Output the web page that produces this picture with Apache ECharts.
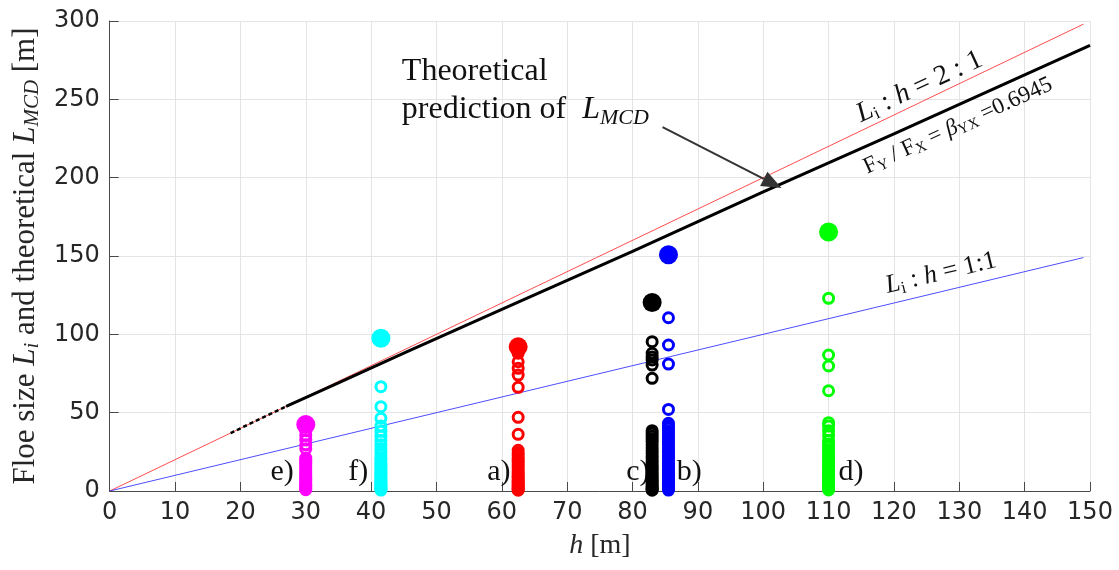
<!DOCTYPE html>
<html>
<head>
<meta charset="utf-8">
<script src="https://cdn.jsdelivr.net/npm/echarts@6/dist/echarts.min.js"></script>
<style>
html,body{margin:0;padding:0;background:#ffffff;}
#chart{width:1119px;height:570px;}
</style>
</head>
<body>
<div id="chart"></div>
<script>
// ---------------- DATA ----------------
const xTicks = [0, 10, 20, 30, 40, 50, 60, 70, 80, 90, 100, 110, 120, 130, 140, 150];
const yTicks = [0, 50, 100, 150, 200, 250, 300];

// Sites (ice thickness h, m)
const siteLabels = ['e)', 'f)', 'a)', 'c)', 'b)', 'd)'];
const siteH = [30, 41.5, 62.5, 83, 85.5, 110];
const siteColors = ['#ff00ff', '#00ffff', '#ff0000', '#000000', '#0000ff', '#00ff00'];

// Largest floe size per site (filled markers)
const maxFloe = [42.5, 97.5, 92, 120.3, 150.8, 165.3];

// Individual floe sizes L_i per site (open markers)
const floesE = [38.5, 35.5, 32.5, 29.5, 27, 21, 19.8, 18.5, 17.2, 16, 14.7, 13.5, 12.2, 11, 9.8, 8.6, 7.5, 6.3, 5.2, 4.1, 3.1, 2.2, 1.4, 0.8];
const floesF = [66.6, 53.8, 46.4, 41.5, 38.2, 35.1, 32.3, 29.6, 27.2, 25, 23.1, 21.3, 19.6, 18, 16.5, 15.1, 13.8, 12.5, 11.3, 10.1, 9, 7.9, 6.9, 5.9, 5, 4.1, 3.3, 2.5, 1.8, 1.1, 0.6];
const floesA = [88, 82.5, 78.3, 74, 66.2, 47, 36.2, 26, 24.3, 22.8, 21.2, 19.7, 18.3, 16.9, 15.5, 14.2, 12.9, 11.7, 10.5, 9.3, 8.2, 7.1, 6.1, 5.1, 4.2, 3.3, 2.5, 1.7, 1, 0.5];
const floesC = [95.3, 87.9, 85.5, 83.6, 80.4, 71.9, 38.5, 36.8, 35, 33.1, 31.2, 29.4, 27.6, 25.8, 24.1, 22.4, 20.8, 19.2, 17.6, 16.1, 14.6, 13.2, 11.8, 10.5, 9.2, 8, 6.8, 5.7, 4.6, 3.6, 2.7, 1.8, 1, 0.5];
const floesB = [110.6, 93.2, 81, 52.1, 43.2, 41.6, 40, 38.2, 36.5, 34.7, 32.9, 31.1, 29.3, 27.6, 25.9, 24.2, 22.6, 21, 19.4, 17.9, 16.4, 14.9, 13.5, 12.1, 10.8, 9.5, 8.3, 7.1, 6, 4.9, 3.9, 2.9, 2, 1.2, 0.6];
const floesD = [123, 86.8, 79.8, 64, 43.6, 41.5, 38.5, 35.5, 32.2, 30, 28.2, 26.4, 24.7, 23, 21.4, 19.8, 18.3, 16.8, 15.4, 14, 12.7, 11.4, 10.2, 9, 7.9, 6.8, 5.8, 4.8, 3.9, 3, 2.2, 1.4, 0.7];
const floesBySite = [floesE, floesF, floesA, floesC, floesB, floesD];

// Reference ratio lines L_i : h
const ratio21H = [0, 149];
const ratio21L = [0, 298];
const ratio11H = [0, 149];
const ratio11L = [0, 149];

// Theoretical L_MCD curve (solid part and sparse dashed start)
const theoryH = [27, 35, 45, 60, 80, 100, 120, 150];
const theoryL = [54, 69, 88, 116, 153, 191, 228, 284.5];
const theoryDashH = [18.5, 27];
const theoryDashL = [37, 54];

// ---------------- CHART ----------------
const chart = echarts.init(document.getElementById('chart'), null, {renderer: 'canvas'});
const serif = '"Liberation Serif", "Times New Roman", serif';
const sans = '"DejaVu Sans", "Liberation Sans", sans-serif';
const txt = '#262626';

const zip = (xs, ys) => xs.map((x, i) => [x, ys[i]]);

const series = [
  {type: 'line', data: zip(ratio21H, ratio21L), symbol: 'none', lineStyle: {color: '#ff2020', width: 1, opacity: 0.8}, silent: true, z: 2},
  {type: 'line', data: zip(ratio11H, ratio11L), symbol: 'none', lineStyle: {color: '#2020ff', width: 1, opacity: 0.8}, silent: true, z: 2},
  {type: 'line', data: zip(theoryDashH, theoryDashL), symbol: 'none', lineStyle: {color: '#000', width: 2.5, type: [4, 3]}, silent: true, z: 3},
  {type: 'line', data: zip(theoryH, theoryL), symbol: 'none', lineStyle: {color: '#000', width: 3}, silent: true, z: 3}
];
siteH.forEach((h, i) => {
  series.push({
    type: 'scatter', z: 4,
    data: floesBySite[i].map(v => [h, v]),
    symbol: 'circle', symbolSize: 10,
    itemStyle: {color: 'rgba(0,0,0,0)', borderColor: siteColors[i], borderWidth: 3, opacity: 1},
    silent: true
  });
  series.push({
    type: 'scatter', z: 5,
    data: [[h, maxFloe[i]]],
    symbol: 'circle', symbolSize: 19,
    itemStyle: {color: siteColors[i], opacity: 1},
    silent: true
  });
});

const axisCommon = {
  type: 'value',
  axisLine: {show: true, lineStyle: {color: '#4a4a4a', width: 1}},
  axisTick: {show: true, inside: true, length: 9, lineStyle: {color: '#4a4a4a'}},
  splitLine: {show: true, lineStyle: {color: '#e4e4e4', width: 1}},
  axisLabel: {fontFamily: sans, fontSize: 24, color: txt}
};

const option = {
  animation: false,
  backgroundColor: '#ffffff',
  grid: {left: 105, right: 29, top: 21, bottom: 79, containLabel: false},
  xAxis: Object.assign({}, axisCommon, {
    min: xTicks[0], max: xTicks[xTicks.length - 1], interval: 10,
    axisLabel: Object.assign({}, axisCommon.axisLabel, {margin: 10}),
    name: '{i|h}{r| [m]}',
    nameLocation: 'middle', nameGap: 41,
    nameTextStyle: {
      rich: {
        i: {fontFamily: serif, fontStyle: 'italic', fontSize: 28, color: txt},
        r: {fontFamily: serif, fontSize: 28, color: txt}
      }
    }
  }),
  yAxis: Object.assign({}, axisCommon, {
    min: yTicks[0], max: yTicks[yTicks.length - 1], interval: 50,
    axisLabel: Object.assign({}, axisCommon.axisLabel, {margin: 10}),
    name: '{r|Floe size }{i|L}{s|i}{r| and theoretical }{i|L}{s|MCD}{r| [m]}',
    nameLocation: 'middle', nameGap: 62, nameRotate: 90,
    nameTextStyle: {
      rich: {
        r: {fontFamily: serif, fontSize: 31, color: txt, lineHeight: 36},
        i: {fontFamily: serif, fontStyle: 'italic', fontSize: 31, color: txt, lineHeight: 36},
        s: {fontFamily: serif, fontStyle: 'italic', fontSize: 21, color: txt, lineHeight: 36, padding: [14, 0, 0, 0]}
      }
    }
  }),
  series: series
};
chart.setOption(option);

// ---------------- ANNOTATIONS ----------------
const P = (x, y) => chart.convertToPixel({gridIndex: 0}, [x, y]);
const deg = Math.PI / 180;
const ink = '#111111';
const g = [];

// "Theoretical prediction of L_MCD"
let p = P(44.7, 267.6);
g.push({type: 'text', x: p[0], y: p[1], z: 10,
  style: {text: 'Theoretical', fontFamily: serif, fontSize: 32, fill: ink, align: 'left', verticalAlign: 'middle'}});
p = P(44.7, 243.2);
g.push({type: 'text', x: p[0], y: p[1], z: 10,
  style: {text: '{a|prediction of  }{i|L}{s|MCD}', align: 'left', verticalAlign: 'middle',
    rich: {
      a: {fontFamily: serif, fontSize: 32, fill: ink, lineHeight: 38},
      i: {fontFamily: serif, fontStyle: 'italic', fontSize: 32, fill: ink, lineHeight: 38},
      s: {fontFamily: serif, fontStyle: 'italic', fontSize: 22, fill: ink, lineHeight: 38, padding: [16, 0, 0, 0]}
    }}});

// Arrow towards the theoretical curve
const tail = P(84.6, 232.3);
const tip = P(102.8, 193.4);
const dx = tip[0] - tail[0], dy = tip[1] - tail[1];
const len = Math.hypot(dx, dy);
const ux = dx / len, uy = dy / len;
const headL = 20, headW = 8;
const base = [tip[0] - ux * headL, tip[1] - uy * headL];
g.push({type: 'line', z: 10, shape: {x1: tail[0], y1: tail[1], x2: base[0], y2: base[1]},
  style: {stroke: '#333333', lineWidth: 2}});
g.push({type: 'polygon', z: 10, shape: {points: [tip, [base[0] - uy * headW, base[1] + ux * headW], [base[0] + uy * headW, base[1] - ux * headW]]},
  style: {fill: '#333333'}});

// Rotated line labels
const richRot = (fs, sfs) => ({
  r: {fontFamily: serif, fontSize: fs, fill: ink, lineHeight: fs + 6},
  i: {fontFamily: serif, fontStyle: 'italic', fontSize: fs, fill: ink, lineHeight: fs + 6},
  s: {fontFamily: serif, fontSize: sfs, fill: ink, lineHeight: fs + 6, padding: [Math.round(fs * 0.45), 0, 0, 0]}
});
p = P(123.9, 258.0);
g.push({type: 'text', x: p[0], y: p[1], rotation: 25 * deg, z: 10,
  style: {text: '{i|L}{s|i}{r| : }{i|h}{r| = 2 : 1}', align: 'center', verticalAlign: 'middle', rich: richRot(28, 18)}});
p = P(129.8, 233.1);
g.push({type: 'text', x: p[0], y: p[1], rotation: 24.5 * deg, z: 10,
  style: {text: '{r|F}{s|Y}{r| / F}{s|X}{r| = }{i|β}{s|YX}{r| =0.6945}', align: 'center', verticalAlign: 'middle', rich: richRot(23, 15)}});
p = P(127.2, 139.0);
g.push({type: 'text', x: p[0], y: p[1], rotation: 13.5 * deg, z: 10,
  style: {text: '{i|L}{s|i}{r| : }{i|h}{r| = 1:1}', align: 'center', verticalAlign: 'middle', rich: richRot(26, 17)}});

// Site labels (below the scatter markers)
const labelOffsets = [-12, -12.7, -7.6, -2.7, 8.3, 10];
siteLabels.forEach((lab, i) => {
  const q = P(siteH[i], 12);
  g.push({type: 'text', x: q[0] + labelOffsets[i], y: q[1], z: 1,
    style: {text: lab, fontFamily: serif, fontSize: 30, fill: ink, align: labelOffsets[i] < 0 ? 'right' : 'left', verticalAlign: 'middle'}});
});

chart.setOption({graphic: {elements: g}});
</script>
</body>
</html>
